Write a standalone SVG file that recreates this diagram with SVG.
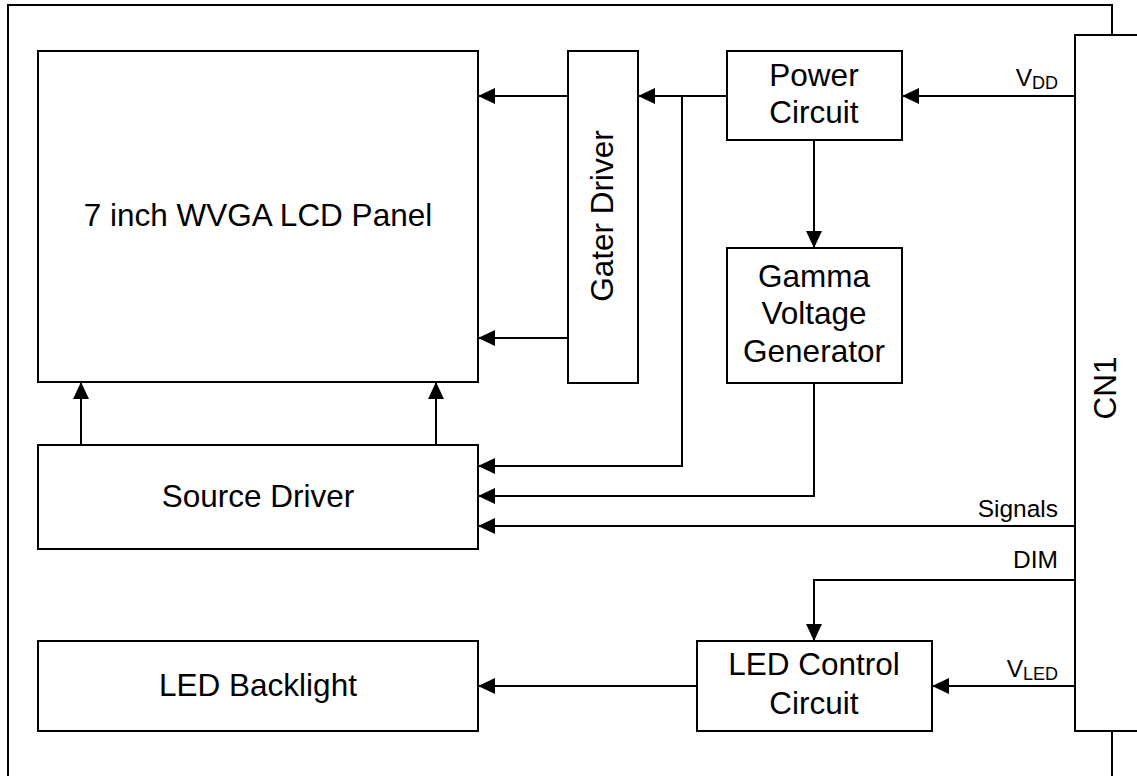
<svg xmlns="http://www.w3.org/2000/svg" width="1137" height="776" viewBox="0 0 1137 776">
<style>
.box{fill:#fff;stroke:#000;stroke-width:2}
.ln{fill:none;stroke:#000;stroke-width:2}
.t{font-family:"Liberation Sans",Arial,sans-serif;font-size:31.5px;fill:#000;text-anchor:middle}
.lb{font-family:"Liberation Sans",Arial,sans-serif;font-size:24.5px;fill:#000;text-anchor:end}
.sub{font-size:18px}
</style>
<defs>
<marker id="ah" markerUnits="userSpaceOnUse" markerWidth="18" markerHeight="16" refX="17" refY="8" orient="auto">
<path d="M0,0 L17,8 L0,16 z" fill="#000"/>
</marker>
</defs>
<rect width="1137" height="776" fill="#fff"/>
<g id="frame">
<path class="ln" d="M1112,35 V5 H8 V776"/>
<path class="ln" d="M1112,731 V776"/>
</g>
<g id="connectors">
<path class="ln" d="M568,96 H478" marker-end="url(#ah)"/>
<path class="ln" d="M568,338 H478" marker-end="url(#ah)"/>
<path class="ln" d="M727,96 H638" marker-end="url(#ah)"/>
<path class="ln" d="M682,96 V466 H478" marker-end="url(#ah)"/>
<path class="ln" d="M1075,96 H902" marker-end="url(#ah)"/>
<path class="ln" d="M814,140 V248" marker-end="url(#ah)"/>
<path class="ln" d="M814,383 V496 H478" marker-end="url(#ah)"/>
<path class="ln" d="M1075,526 H478" marker-end="url(#ah)"/>
<path class="ln" d="M1075,580 H814 V641" marker-end="url(#ah)"/>
<path class="ln" d="M1075,686 H932" marker-end="url(#ah)"/>
<path class="ln" d="M697,686 H478" marker-end="url(#ah)"/>
<path class="ln" d="M81,445 V382" marker-end="url(#ah)"/>
<path class="ln" d="M436,445 V382" marker-end="url(#ah)"/>
<text class="lb" x="1058" y="86">V<tspan class="sub" dy="3">DD</tspan></text>
<text class="lb" x="1058" y="517">Signals</text>
<text class="lb" x="1058" y="568">DIM</text>
<text class="lb" x="1058" y="677">V<tspan class="sub" dy="3">LED</tspan></text>
</g>
<g id="lcd-panel">
<rect class="box" x="38" y="51" width="440" height="331"/>
<text class="t" x="258" y="226">7 inch WVGA LCD Panel</text>
</g>
<g id="gater-driver">
<rect class="box" x="568" y="51" width="70" height="332"/>
<text class="t" transform="translate(613,216) rotate(-90)">Gater Driver</text>
</g>
<g id="power-circuit">
<rect class="box" x="727" y="51" width="175" height="89"/>
<text class="t" x="814" y="86">Power</text>
<text class="t" x="814" y="123">Circuit</text>
</g>
<g id="gamma">
<rect class="box" x="727" y="248" width="175" height="135"/>
<text class="t" x="814" y="287">Gamma</text>
<text class="t" x="814" y="324">Voltage</text>
<text class="t" x="814" y="362">Generator</text>
</g>
<g id="source-driver">
<rect class="box" x="38" y="445" width="440" height="104"/>
<text class="t" x="258" y="507">Source Driver</text>
</g>
<g id="led-backlight">
<rect class="box" x="38" y="641" width="440" height="90"/>
<text class="t" x="258" y="696">LED Backlight</text>
</g>
<g id="led-control">
<rect class="box" x="697" y="641" width="235" height="90"/>
<text class="t" x="814" y="675">LED Control</text>
<text class="t" x="814" y="714">Circuit</text>
</g>
<g id="cn1">
<rect class="box" x="1075" y="35" width="70" height="696"/>
<text class="t" transform="translate(1116,388) rotate(-90)">CN1</text>
</g>
</svg>
